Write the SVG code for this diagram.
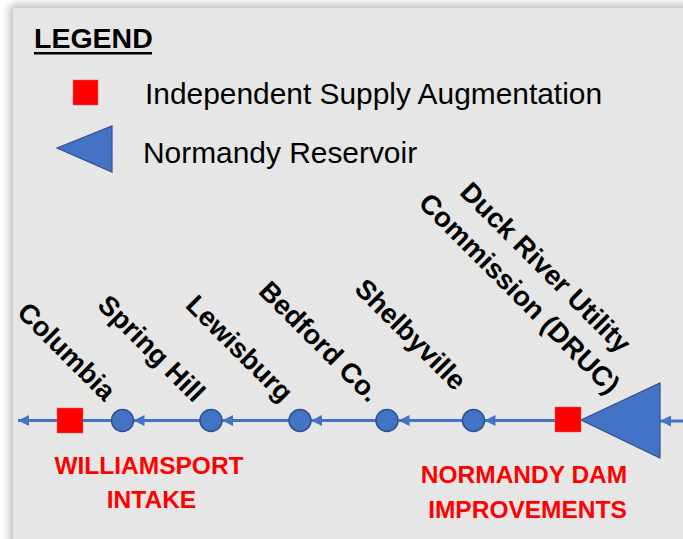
<svg xmlns="http://www.w3.org/2000/svg" width="683" height="539" viewBox="0 0 683 539">
<defs>
<filter id="shadow" x="-10%" y="-10%" width="120%" height="120%">
<feGaussianBlur stdDeviation="4"/>
</filter>
<marker id="arr" markerUnits="userSpaceOnUse" markerWidth="11" markerHeight="11" viewBox="0 0 10 10" refX="10" refY="5" orient="auto">
<path d="M0,0 L10,5 L0,10 z" fill="#4472C4"/>
</marker>
<style>
.lab{font-family:"Liberation Sans",Arial,sans-serif;font-weight:bold;font-size:27.5px;fill:#000;text-anchor:middle}
.leg{font-family:"Liberation Sans",Arial,sans-serif;font-size:29.9px;fill:#000}
.red{font-family:"Liberation Sans",Arial,sans-serif;font-weight:bold;font-size:24.5px;fill:#FF0000;text-anchor:middle}
.ln{stroke:#4472C4;stroke-width:3;fill:none;marker-end:url(#arr)}
.city{fill:#4472C4;stroke:#2F528F;stroke-width:1.5}
.isa{fill:#FF0000;stroke:#E06060;stroke-width:0.5}
.res{fill:#4472C4;stroke:#2F528F;stroke-width:1.2}
</style>
</defs>
<rect x="0" y="0" width="683" height="539" fill="#ffffff"/>
<rect x="10" y="5" width="700" height="560" fill="#b8b8b8" filter="url(#shadow)"/>
<rect x="13" y="8" width="680" height="540" fill="#E7E6E6"/>

<g id="legend">
<text x="34" y="48" font-family="Liberation Sans, Arial, sans-serif" font-weight="bold" font-size="28.5">LEGEND</text>
<rect x="34" y="52" width="118" height="2.5" fill="#000"/>
<rect class="isa" x="73" y="80" width="25" height="25"/>
<text class="leg" x="145" y="104">Independent Supply Augmentation</text>
<polygon class="res" points="57,148 112,126 112,172"/>
<text class="leg" x="143" y="163">Normandy Reservoir</text>
</g>

<g id="connectors">
<line class="ln" x1="683" y1="421" x2="660" y2="421"/>
<line class="ln" x1="556" y1="420.5" x2="484.5" y2="420.5"/>
<line class="ln" x1="463" y1="420.5" x2="398.5" y2="420.5"/>
<line class="ln" x1="376" y1="420.5" x2="311" y2="420.5"/>
<line class="ln" x1="289" y1="420.5" x2="222" y2="420.5"/>
<line class="ln" x1="200" y1="420.5" x2="133.5" y2="420.5"/>
<line class="ln" x1="112" y1="420.5" x2="18" y2="420.5"/>
</g>

<g id="normandy-reservoir">
<polygon class="res" points="581,420 660,383 660,458"/>
</g>
<g id="normandy-dam">
<rect class="isa" x="555" y="407" width="26" height="25"/>
<text class="red" x="524" y="483">NORMANDY DAM</text>
<text class="red" x="527.5" y="518">IMPROVEMENTS</text>
</g>
<g id="druc">
<text class="lab" transform="translate(533,280) rotate(45)"><tspan x="0" y="-8.5">Duck River Utility</tspan><tspan x="0" y="28.5">Commission (DRUC)</tspan></text>
</g>
<g id="shelbyville">
<circle class="city" cx="473.5" cy="420.5" r="11"/>
<text class="lab" transform="translate(411,334) rotate(45)" y="10">Shelbyville</text>
</g>
<g id="bedford">
<circle class="city" cx="387" cy="420.5" r="11"/>
<text class="lab" transform="translate(320,341) rotate(45)" y="10">Bedford Co.</text>
</g>
<g id="lewisburg">
<circle class="city" cx="300" cy="420.5" r="11"/>
<text class="lab" transform="translate(240,348) rotate(45)" y="10">Lewisburg</text>
</g>
<g id="spring-hill">
<circle class="city" cx="211" cy="420.5" r="11"/>
<text class="lab" transform="translate(152,348) rotate(45)" y="10">Spring Hill</text>
</g>
<g id="columbia">
<circle class="city" cx="122.5" cy="420.5" r="11"/>
<text class="lab" transform="translate(67,351) rotate(45)" y="10">Columbia</text>
</g>
<g id="williamsport">
<rect class="isa" x="57" y="408" width="26" height="25"/>
<text class="red" x="149" y="474">WILLIAMSPORT</text>
<text class="red" x="151.5" y="508">INTAKE</text>
</g>
</svg>
